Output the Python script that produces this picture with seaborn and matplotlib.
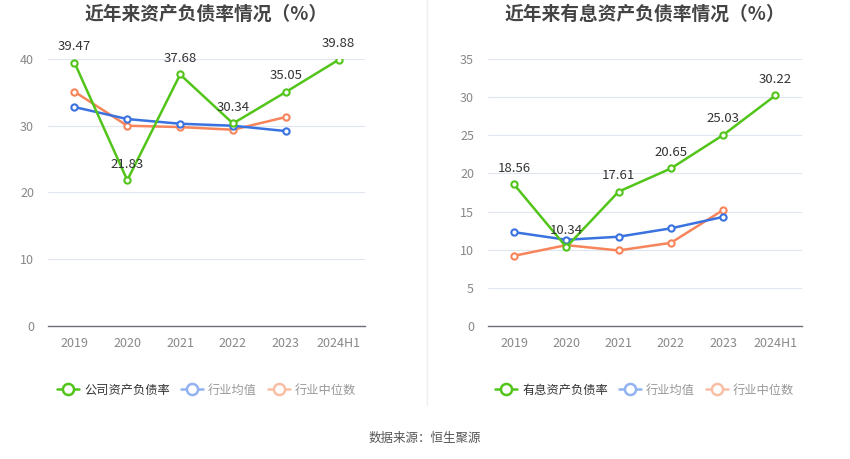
import matplotlib
matplotlib.use("Agg")
import matplotlib.pyplot as plt
import seaborn as sns
import pandas as pd
from matplotlib.lines import Line2D

sns.set_theme(style="white")
plt.rcParams['font.family'] = ['Noto Sans CJK SC', 'DejaVu Sans']

years = ['2019', '2020', '2021', '2022', '2023', '2024H1']

# left: asset-liability ratio
company_debt = [39.47, 21.83, 37.68, 30.34, 35.05, 39.88]
industry_avg_debt = [32.8, 31.0, 30.3, 30.0, 29.2]
industry_med_debt = [35.1, 30.0, 29.8, 29.4, 31.3]

# right: interest-bearing debt ratio
company_int = [18.56, 10.34, 17.61, 20.65, 25.03, 30.22]
industry_avg_int = [12.3, 11.3, 11.7, 12.8, 14.3]
industry_med_int = [9.2, 10.6, 9.9, 10.9, 15.2]

GREEN = '#52c41a'
BLUE = '#3a72e0'
ORANGE = '#f7845a'
GREEN_L = '#52c41a'
BLUE_L = '#92b2f2'
ORANGE_L = '#f9bfa5'


def make_df(comp, avg, med):
    rows = []
    for i, y in enumerate(years):
        rows.append((i, comp[i], 'comp'))
    for i, v in enumerate(avg):
        rows.append((i, v, 'avg'))
    for i, v in enumerate(med):
        rows.append((i, v, 'med'))
    return pd.DataFrame(rows, columns=['x', 'val', 'series'])


def draw(ax, comp, avg, med, ymax, step, title, leg_name):
    df = make_df(comp, avg, med)
    pal = {'comp': GREEN, 'avg': BLUE, 'med': ORANGE}
    for s in ['med', 'avg', 'comp']:
        sub = df[df['series'] == s]
        sns.lineplot(data=sub, x='x', y='val', ax=ax, color=pal[s], lw=1.8,
                     marker='o', markersize=4.5, markerfacecolor='white',
                     markeredgecolor=pal[s], markeredgewidth=1.5,
                     legend=False, zorder=3 if s == 'comp' else 2)
    for i, v in enumerate(comp):
        ax.annotate(f'{v:.2f}', (i, v), xytext=(0, 7), textcoords='offset points',
                    ha='center', va='bottom', fontsize=9.5, color='#333333', zorder=5)
    ax.set_xlim(-0.5, len(years) - 0.5)
    ax.set_ylim(0, ymax)
    ax.set_yticks(range(0, ymax + 1, step))
    ax.set_xticks(range(len(years)))
    ax.set_xticklabels(years)
    ax.tick_params(axis='x', length=4, color='#6e7079', colors='#888888', labelsize=9, pad=4)
    ax.tick_params(axis='y', length=0, colors='#888888', labelsize=9, pad=10)
    ax.set_xlabel('')
    ax.set_ylabel('')
    ax.grid(axis='y', color='#e0e6f1', lw=0.8)
    ax.set_axisbelow(True)
    for sp in ['top', 'right', 'left']:
        ax.spines[sp].set_visible(False)
    ax.spines['bottom'].set_color('#6e7079')
    ax.spines['bottom'].set_linewidth(1)
    ax.set_title(title, fontsize=13.5, fontweight='bold', color='#444444', pad=28)

    handles = [
        Line2D([], [], color=GREEN_L, lw=1.8, marker='o', markersize=8,
               markerfacecolor='white', markeredgewidth=1.8),
        Line2D([], [], color=BLUE_L, lw=1.8, marker='o', markersize=8,
               markerfacecolor='white', markeredgewidth=1.8),
        Line2D([], [], color=ORANGE_L, lw=1.8, marker='o', markersize=8,
               markerfacecolor='white', markeredgewidth=1.8),
    ]
    leg = ax.legend(handles, [leg_name, '行业均值', '行业中位数'], loc='upper center',
                    bbox_to_anchor=(0.5, -0.175), ncol=3, frameon=False, fontsize=8.8,
                    handlelength=1.8, handletextpad=0.4, columnspacing=0.9)
    cols = ['#333333', '#999999', '#999999']
    for t, c in zip(leg.get_texts(), cols):
        t.set_color(c)


fig = plt.figure(figsize=(8.5, 4.59), dpi=100)
ax1 = fig.add_axes([0.0565, 0.2898, 0.373, 0.5817])
ax2 = fig.add_axes([0.574, 0.2898, 0.369, 0.5817])

draw(ax1, company_debt, industry_avg_debt, industry_med_debt, 40, 10,
     '近年来资产负债率情况（%）', '公司资产负债率')
draw(ax2, company_int, industry_avg_int, industry_med_int, 35, 5,
     '近年来有息资产负债率情况（%）', '有息资产负债率')

fig.add_artist(Line2D([427 / 850, 427 / 850], [1.0, 1 - 405 / 459],
                      color='#eeeeee', lw=1, transform=fig.transFigure))
fig.text(0.5, 1 - 438 / 459, '数据来源：恒生聚源', ha='center', va='center',
         fontsize=9, color='#555555')

fig.savefig('out.png', dpi=100, facecolor='white')
